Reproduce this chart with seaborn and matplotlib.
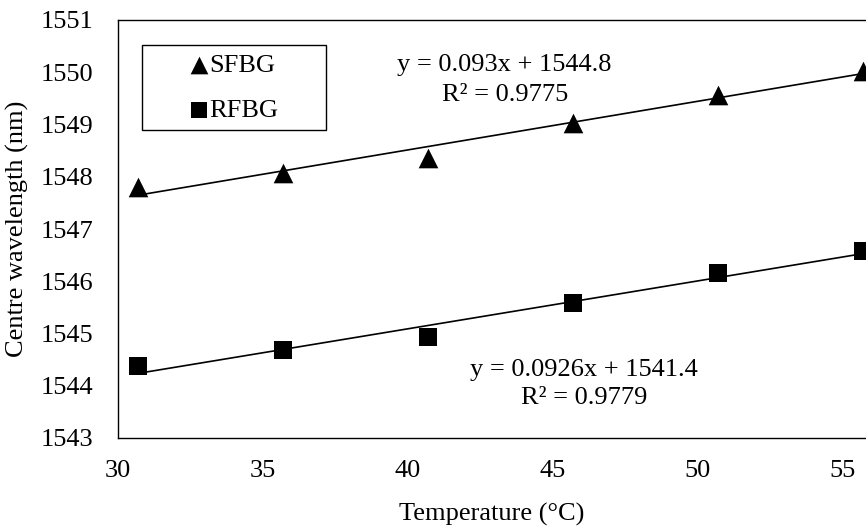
import matplotlib
matplotlib.use("Agg")
import matplotlib.pyplot as plt
import seaborn as sns
import numpy as np
from matplotlib.patches import Rectangle

# Dados
temperatura = [30.7, 35.7, 40.7, 45.7, 50.7, 55.7]
sfbg = [1547.80, 1548.08, 1548.36, 1549.03, 1549.57, 1550.03]
rfbg = [1544.38, 1544.68, 1544.93, 1545.58, 1546.16, 1546.57]
eq_sfbg = ["y = 0.093x + 1544.8", "R² = 0.9775"]
eq_rfbg = ["y = 0.0926x + 1541.4", "R² = 0.9779"]
xticks = [30, 35, 40, 45, 50, 55]
yticks = [1543, 1544, 1545, 1546, 1547, 1548, 1549, 1550, 1551]

sns.set_style("white")
plt.rcParams["font.family"] = ["Liberation Serif", "DejaVu Serif"]
plt.rcParams["text.color"] = "black"
plt.rcParams["axes.labelcolor"] = "black"
plt.rcParams["xtick.color"] = "black"
plt.rcParams["ytick.color"] = "black"
fs = 19

fig = plt.figure(figsize=(8.66, 5.28), dpi=100)
ax = fig.add_axes([118 / 866, 1 - 438 / 528, 1 - 118 / 866, (438 - 20) / 528])

# SFBG - triângulos com linha de tendência
sns.regplot(x=temperatura, y=sfbg, ax=ax, ci=None, marker="^", color="black",
            label="SFBG",
            scatter_kws=dict(s=200, alpha=1, linewidths=0),
            line_kws=dict(lw=1.2))

# RFBG - quadrados com linha de tendência
sns.regplot(x=temperatura, y=rfbg, ax=ax, ci=None, marker="s", color="black",
            label="RFBG",
            scatter_kws=dict(s=175, alpha=1, linewidths=0),
            line_kws=dict(lw=1.2))

ax.set_xlim(30, 55.8)
ax.set_ylim(1543, 1551)
ax.set_xticks(xticks)
ax.set_yticks(yticks)
ax.tick_params(length=0, labelsize=fs)
ax.tick_params(axis="x", pad=16)
ax.tick_params(axis="y", pad=18)
for side in ["left", "bottom", "top"]:
    ax.spines[side].set_color("black")
    ax.spines[side].set_linewidth(1.0)
ax.spines["right"].set_visible(False)

ax.set_xlabel("Temperature (°C)", fontsize=fs, labelpad=15)
ax.set_ylabel("Centre wavelength (nm)", fontsize=fs, labelpad=8)

# equações das retas
ax.text(0.517, 0.892, eq_sfbg[0], transform=ax.transAxes, ha="center", va="center", fontsize=fs)
ax.text(0.517, 0.821, eq_sfbg[1], transform=ax.transAxes, ha="center", va="center", fontsize=fs)
ax.text(0.623, 0.163, eq_rfbg[0], transform=ax.transAxes, ha="center", va="center", fontsize=fs)
ax.text(0.623, 0.096, eq_rfbg[1], transform=ax.transAxes, ha="center", va="center", fontsize=fs)

# legenda com caixa retangular
leg = ax.legend(loc="center", bbox_to_anchor=(0.152, 0.8385), frameon=False,
                scatterpoints=1, markerscale=0.9, handletextpad=-0.1,
                handlelength=1.0, labelspacing=0.8, fontsize=fs)
ax.add_patch(Rectangle((24 / 748, (438 - 130) / 418), 184 / 748, 85 / 418,
                       transform=ax.transAxes, fill=False, edgecolor="black", lw=1.0))

fig.savefig("out.png", dpi=100)
